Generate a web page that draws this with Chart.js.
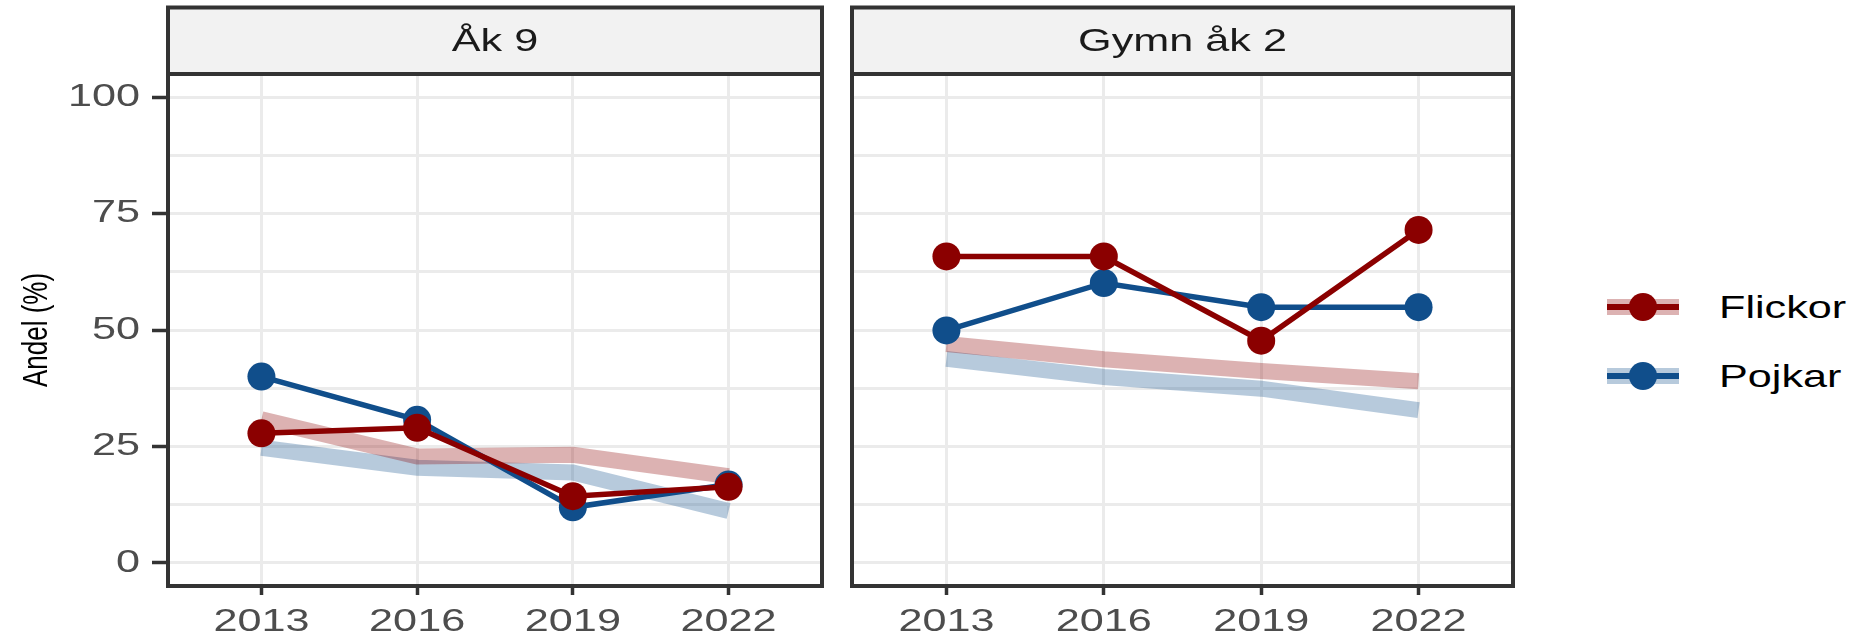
<!DOCTYPE html>
<html>
<head>
<meta charset="utf-8">
<script src="https://cdn.jsdelivr.net/npm/chart.js@4.4.0/dist/chart.umd.min.js"></script>
<style>
  body { margin: 0; background: #fff; }
  #wrap { position: relative; width: 1850px; height: 640px; overflow: hidden; }
  .box { position: absolute; top: 0; height: 640px; }
  #box1 { left: 0; width: 836px; }
  #box2 { left: 836px; width: 724px; }
  .legend { position: absolute; left: 1607px; top: 0; }
  .item { position: absolute; left: 0; width: 260px; height: 40px; }
  .key { position: absolute; left: 0; top: 0; width: 72px; height: 40px; }
  .band { position: absolute; left: 0; top: 12px; width: 72px; height: 16px; opacity: 0.3; }
  .line { position: absolute; left: 0; top: 17px; width: 72px; height: 6px; }
  .dot { position: absolute; left: 22px; top: 6px; width: 28px; height: 28px; border-radius: 50%; }
  .label { position: absolute; left: 112px; top: 1px; font: 32px "Liberation Sans", Arial, sans-serif; color: #000;
           transform: scaleX(1.35); transform-origin: left center; white-space: nowrap; line-height: 38px; }
</style>
</head>
<body>
<div id="wrap">
  <div class="box" id="box1"><canvas id="c1"></canvas></div>
  <div class="box" id="box2"><canvas id="c2"></canvas></div>
  <div class="legend" id="legend"></div>
</div>
<script>
// values
var years = [2013, 2016, 2019, 2022];
var panels = ['Åk 9', 'Gymn åk 2'];
var groups = ['Flickor', 'Pojkar'];
var yTicks = [0, 25, 50, 75, 100];

var flickorAk9 = [27.8, 29.0, 14.3, 16.3];
var pojkarAk9 = [40.0, 30.7, 11.9, 16.8];
var flickorGymn = [65.8, 65.8, 47.7, 71.5];
var pojkarGymn = [49.9, 60.1, 54.9, 54.9];

// reference bands (pale lines)
var flickorRefAk9 = [30.8, 22.8, 23.2, 18.6];
var pojkarRefAk9 = [24.7, 20.4, 19.4, 11.1];
var flickorRefGymn = [47.0, 43.7, 41.2, 39.0];
var pojkarRefGymn = [43.8, 39.9, 37.4, 32.8];

var RED = '#8B0000', BLUE = '#104E8B';
var STRETCH = 1.35;

function rgba(hex, a)
{
    var r = parseInt(hex.substr(1, 2), 16), g = parseInt(hex.substr(3, 2), 16), b = parseInt(hex.substr(5, 2), 16);
    return 'rgba(' + r + ',' + g + ',' + b + ',' + a + ')';
}

function points(values)
{
    return values.map(function (v, i) { return { x: years[i], y: v }; });
}

function series(label, values, color)
{
    return { label: label, data: points(values), borderColor: color, backgroundColor: color,
             borderWidth: 5.5, pointRadius: 14, pointHoverRadius: 14, pointBorderWidth: 0, tension: 0 };
}

function band(label, values, color)
{
    return { label: label, data: points(values), borderColor: rgba(color, 0.3), borderWidth: 16,
             pointRadius: 0, pointHoverRadius: 0, tension: 0, borderCapStyle: 'butt' };
}

// text in the picture is drawn wider (along the screen x direction) than normal
var stretchText = {
    id: 'stretchText',
    beforeInit: function (chart)
    {
        var ctx = chart.ctx, fill = ctx.fillText;
        ctx.fillText = function (text, x, y)
        {
            var m = this.getTransform();
            var p = m.transformPoint(new DOMPoint(x, y));
            this.save();
            this.setTransform(new DOMMatrix().translate(p.x, p.y).scale(STRETCH, 1).translate(-p.x, -p.y).multiply(m));
            fill.call(this, text, x, y);
            this.restore();
        };
    }
};

var panelFrame = {
    id: 'panelFrame',
    afterDraw: function (chart, args, opts)
    {
        var a = chart.chartArea, ctx = chart.ctx, top = 7.5;
        ctx.save();
        ctx.fillStyle = '#F2F2F2';
        ctx.fillRect(a.left, top, a.right - a.left, a.top - top);
        ctx.lineWidth = 4;
        ctx.strokeStyle = '#333333';
        ctx.strokeRect(a.left, top, a.right - a.left, a.top - top);
        ctx.strokeRect(a.left, a.top, a.right - a.left, a.bottom - a.top);
        ctx.fillStyle = '#1A1A1A';
        ctx.font = '32px "Liberation Sans", Arial, sans-serif';
        ctx.textAlign = 'center';
        ctx.textBaseline = 'middle';
        ctx.fillText(opts.title, (a.left + a.right) / 2, (top + a.top) / 2 + 1);
        ctx.restore();
    }
};

function makeChart(id, title, data, showY, padding)
{
    var font = { family: '"Liberation Sans", Arial, sans-serif', size: 32 };

    return new Chart(document.getElementById(id), {
        type: 'line',
        data: { datasets: data },
        plugins: [stretchText, panelFrame],
        options: {
            responsive: true,
            maintainAspectRatio: false,
            animation: false,
            layout: { padding: padding },
            plugins: { legend: { display: false }, tooltip: { enabled: false }, panelFrame: { title: title } },
            scales: {
                x: {
                    type: 'linear', min: 2011.2, max: 2023.8,
                    afterBuildTicks: function (s) { s.ticks = years.map(function (v) { return { value: v }; }); },
                    afterFit: function (s) { s.height = 54; },
                    border: { display: false },
                    grid: { color: '#EBEBEB', lineWidth: 3, tickLength: 9, tickColor: '#333333', tickWidth: 3.5 },
                    ticks: { font: font, color: '#4D4D4D', padding: 8, maxRotation: 0, autoSkip: false,
                             callback: function (v) { return String(v); } }
                },
                y: {
                    min: -5, max: 105,
                    afterBuildTicks: function (s)
                    {
                        var t = [];
                        for (var v = 0; v <= 100; v += 12.5) t.push({ value: v });
                        s.ticks = t;
                    },
                    afterFit: function (s) { s.width = showY ? 168 : 0; },
                    border: { display: false },
                    title: { display: showY, text: 'Andel (%)', color: '#000000',
                             font: { family: '"Liberation Sans", Arial, sans-serif', size: 26 }, padding: { top: 22, bottom: 0 } },
                    grid: {
                        color: '#EBEBEB', lineWidth: 3, drawTicks: showY, tickLength: 16, tickWidth: 3.5,
                        tickColor: function (c) { return c.tick && yTicks.indexOf(c.tick.value) >= 0 ? '#333333' : 'rgba(0,0,0,0)'; }
                    },
                    ticks: { display: showY, font: font, color: '#4D4D4D', padding: 12,
                             callback: function (v) { return yTicks.indexOf(v) >= 0 ? String(v) : ''; } }
                }
            }
        }
    });
}

makeChart('c1', panels[0], [
    series(groups[0], flickorAk9, RED),
    series(groups[1], pojkarAk9, BLUE),
    band(groups[0] + ' ref', flickorRefAk9, RED),
    band(groups[1] + ' ref', pojkarRefAk9, BLUE)
], true, { left: 0, top: 74, right: 12, bottom: 0 });

makeChart('c2', panels[1], [
    series(groups[0], flickorGymn, RED),
    series(groups[1], pojkarGymn, BLUE),
    band(groups[0] + ' ref', flickorRefGymn, RED),
    band(groups[1] + ' ref', pojkarRefGymn, BLUE)
], false, { left: 16, top: 74, right: 47, bottom: 0 });

// legend
var legend = document.getElementById('legend');
[[groups[0], RED, 287], [groups[1], BLUE, 356]].forEach(function (g)
{
    var item = document.createElement('div');
    item.className = 'item';
    item.style.top = g[2] + 'px';
    item.innerHTML = '<div class="key"><div class="band" style="background:' + g[1] + '"></div>' +
        '<div class="line" style="background:' + g[1] + '"></div>' +
        '<div class="dot" style="background:' + g[1] + '"></div></div>' +
        '<div class="label">' + g[0] + '</div>';
    legend.appendChild(item);
});
</script>
</body>
</html>
